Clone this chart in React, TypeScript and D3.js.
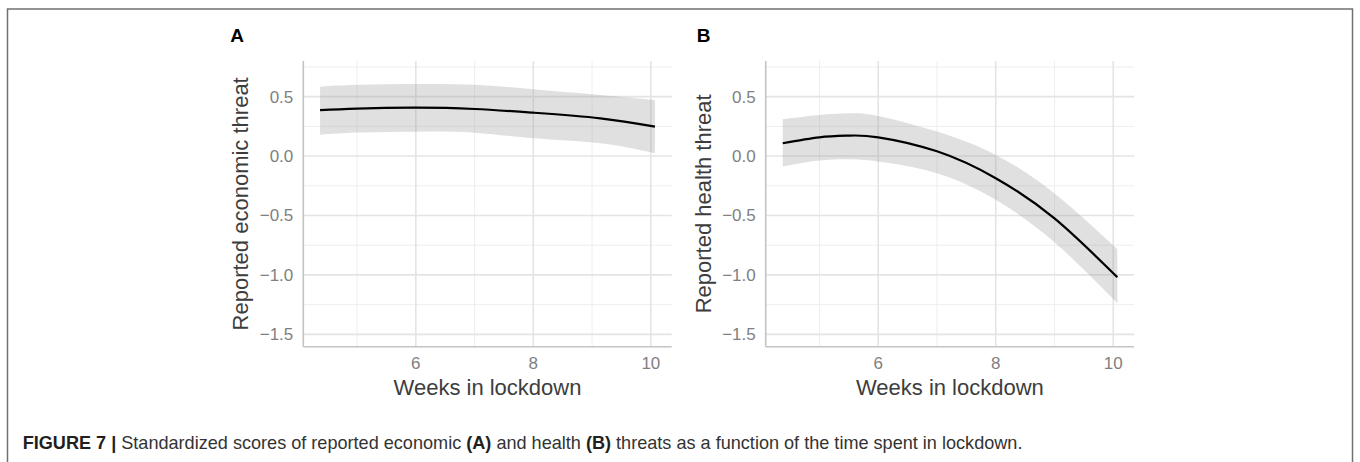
import { useEffect, useRef } from 'react'
import * as d3 from 'd3'

// Panel A: reported economic threat
const weeksA = [4.37, 5, 6, 7, 8, 9.14, 10.07]
const econFit = [0.386, 0.4, 0.407, 0.396, 0.365, 0.318, 0.248]
const econUpper = [0.584, 0.6, 0.607, 0.6, 0.562, 0.514, 0.472]
const econLower = [0.18, 0.198, 0.205, 0.197, 0.15, 0.108, 0.024]

// Panel B: reported health threat
const weeksB = [4.375, 5, 5.5, 6, 7, 8, 9, 10.07]
const healthFit = [0.108, 0.158, 0.172, 0.158, 0.04, -0.186, -0.525, -1.02]
const healthUpper = [0.31, 0.346, 0.36, 0.338, 0.206, 0.01, -0.315, -0.784]
const healthLower = [-0.088, -0.038, -0.027, -0.046, -0.144, -0.368, -0.725, -1.239]

const xTicks = [6, 8, 10]
const xMinor = [5, 7, 9]
const yTicks = [0.5, 0, -0.5, -1, -1.5]
const yMinor = [0.75, 0.25, -0.25, -0.75, -1.25]

const panelLabels = ['A', 'B']
const yTitles = ['Reported economic threat', 'Reported health threat']
const xTitle = 'Weeks in lockdown'

export default function App() {
  const ref = useRef<SVGSVGElement | null>(null)

  useEffect(() => {
    if (!ref.current) return
    const svg = d3.select(ref.current)
    svg.selectAll('*').remove()

    const width = 1360
    const height = 462
    const font = '"Liberation Sans", Arial, sans-serif'

    // figure frame
    svg.append('rect')
      .attr('x', 7.5).attr('y', 9).attr('width', 1345).attr('height', 470)
      .attr('fill', 'none').attr('stroke', '#707070').attr('stroke-width', 1.5)

    const panels = [
      { left: 303.3, x: weeksA, fit: econFit, upper: econUpper, lower: econLower },
      { left: 765.7, x: weeksB, fit: healthFit, upper: healthUpper, lower: healthLower },
    ]
    const panelW = 368.4
    const top = 61
    const bottom = 346.7
    const fmt = (v: number) => d3.format('.1f')(v).replace('-', '\u2212')

    panels.forEach((p, i) => {
      const x = d3.scaleLinear().domain([4.085, 10.355]).range([p.left, p.left + panelW])
      const y = d3.scaleLinear().domain([-1.604, 0.8]).range([bottom, top])
      const g = svg.append('g')

      // grid
      yMinor.forEach(v => {
        g.append('line').attr('x1', p.left).attr('x2', p.left + panelW).attr('y1', y(v)).attr('y2', y(v))
          .attr('stroke', '#eeeeee').attr('stroke-width', 1)
      })
      xMinor.forEach(v => {
        g.append('line').attr('x1', x(v)).attr('x2', x(v)).attr('y1', top).attr('y2', bottom)
          .attr('stroke', '#eeeeee').attr('stroke-width', 1)
      })
      yTicks.forEach(v => {
        g.append('line').attr('x1', p.left).attr('x2', p.left + panelW).attr('y1', y(v)).attr('y2', y(v))
          .attr('stroke', '#e4e4e4').attr('stroke-width', 1.6)
      })
      xTicks.forEach(v => {
        g.append('line').attr('x1', x(v)).attr('x2', x(v)).attr('y1', top).attr('y2', bottom)
          .attr('stroke', '#e4e4e4').attr('stroke-width', 1.6)
      })

      // confidence band
      const idx = d3.range(p.x.length)
      const area = d3.area<number>()
        .x(j => x(p.x[j]))
        .y0(j => y(p.lower[j]))
        .y1(j => y(p.upper[j]))
        .curve(d3.curveNatural)
      g.append('path').datum(idx).attr('d', area).attr('fill', '#999999').attr('fill-opacity', 0.3)

      // fitted line
      const line = d3.line<number>()
        .x(j => x(p.x[j]))
        .y(j => y(p.fit[j]))
        .curve(d3.curveNatural)
      g.append('path').datum(idx).attr('d', line).attr('fill', 'none').attr('stroke', '#000').attr('stroke-width', 2.2)

      // axis lines
      g.append('line').attr('x1', p.left).attr('x2', p.left).attr('y1', top).attr('y2', bottom)
        .attr('stroke', '#c4c4c4').attr('stroke-width', 1.6)
      g.append('line').attr('x1', p.left).attr('x2', p.left + panelW).attr('y1', bottom).attr('y2', bottom)
        .attr('stroke', '#c4c4c4').attr('stroke-width', 1.6)

      // tick labels
      yTicks.forEach(v => {
        g.append('text').attr('x', p.left - 10).attr('y', y(v) + 6)
          .attr('text-anchor', 'end').attr('fill', '#7f7f7f')
          .style('font-family', font).style('font-size', '17px').text(fmt(v))
      })
      xTicks.forEach(v => {
        g.append('text').attr('x', x(v)).attr('y', 369)
          .attr('text-anchor', 'middle').attr('fill', '#7f7f7f')
          .style('font-family', font).style('font-size', '17px').text(String(v))
      })

      // titles
      g.append('text').attr('x', p.left + panelW / 2).attr('y', 395)
        .attr('text-anchor', 'middle').attr('fill', '#3d3d3d')
        .style('font-family', font).style('font-size', '22px').text(xTitle)
      g.append('text')
        .attr('transform', `translate(${p.left - 55},${(top + bottom) / 2}) rotate(-90)`)
        .attr('text-anchor', 'middle').attr('fill', '#3d3d3d')
        .style('font-family', font).style('font-size', '22px').text(yTitles[i])
      g.append('text').attr('x', p.left - (i === 0 ? 73 : 69)).attr('y', 41.7)
        .attr('fill', '#000').style('font-weight', 'bold')
        .style('font-family', font).style('font-size', '19px').text(panelLabels[i])
    })

    // caption
    const cap = svg.append('text').attr('x', 22.7).attr('y', 448.7)
      .attr('fill', '#333').style('font-family', font).style('font-size', '18.1px')
    cap.append('tspan').style('font-weight', 'bold').attr('fill', '#231f20').text('FIGURE 7 | ')
    cap.append('tspan').text('Standardized scores of reported economic ')
    cap.append('tspan').style('font-weight', 'bold').attr('fill', '#231f20').text('(A)')
    cap.append('tspan').text(' and health ')
    cap.append('tspan').style('font-weight', 'bold').attr('fill', '#231f20').text('(B)')
    cap.append('tspan').text(' threats as a function of the time spent in lockdown.')

    svg.attr('width', width).attr('height', height).attr('viewBox', `0 0 ${width} ${height}`)
  }, [])

  return <svg ref={ref} style={{ position: 'absolute', left: 0, top: 0, background: '#fff' }}></svg>
}
